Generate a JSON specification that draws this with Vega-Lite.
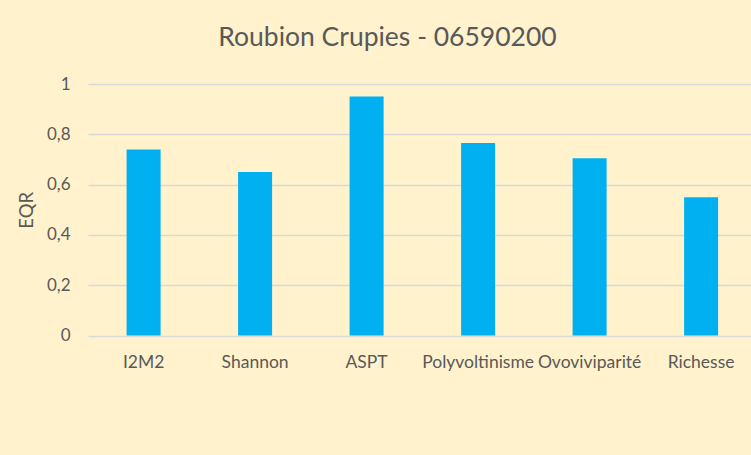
{
  "$schema": "https://vega.github.io/schema/vega-lite/v6.json",
  "autosize": "none",
  "width": 663,
  "height": 251.5,
  "padding": {"left": 88, "top": 84, "right": 0, "bottom": 119.5},
  "background": "#FFF2CC",
  "title": {
    "text": "Roubion Crupies - 06590200",
    "font": "Lato",
    "fontSize": 26.5,
    "fontWeight": "normal",
    "color": "#595959",
    "anchor": "middle",
    "dx": -32,
    "offset": 24
  },
  "data": {
    "values": [
      {"indice": "I2M2", "EQR": 0.74},
      {"indice": "Shannon", "EQR": 0.65},
      {"indice": "ASPT", "EQR": 0.95},
      {"indice": "Polyvoltinisme", "EQR": 0.765},
      {"indice": "Ovoviviparité", "EQR": 0.705},
      {"indice": "Richesse", "EQR": 0.55}
    ]
  },
  "mark": {"type": "bar", "color": "#00B0F0"},
  "encoding": {
    "x": {
      "field": "indice",
      "type": "nominal",
      "sort": null,
      "scale": {"paddingInner": 0.695, "paddingOuter": 0.3205, "align": 0.54},
      "axis": {
        "title": null,
        "labelAngle": 0,
        "labelFont": "Lato",
        "labelFontSize": 17.5,
        "labelColor": "#595959",
        "labelPadding": 18,
        "labelOverlap": false,
        "domain": false,
        "ticks": false,
        "grid": false
      }
    },
    "y": {
      "field": "EQR",
      "type": "quantitative",
      "scale": {"domain": [0, 1], "nice": false},
      "axis": {
        "title": "EQR",
        "titleFont": "Lato",
        "titleFontSize": 18.5,
        "titleFontWeight": "normal",
        "titleColor": "#595959",
        "titlePadding": 10,
        "values": [0, 0.2, 0.4, 0.6, 0.8, 1],
        "format": "~g",
        "labelExpr": "replace(datum.label, '.', ',')",
        "labelFont": "Lato",
        "labelFontSize": 17,
        "labelColor": "#595959",
        "labelPadding": 18,
        "domain": false,
        "ticks": false,
        "grid": true,
        "gridColor": "#D9D9D9",
        "gridWidth": 1.3
      }
    }
  },
  "config": {
    "view": {"stroke": null}
  }
}
